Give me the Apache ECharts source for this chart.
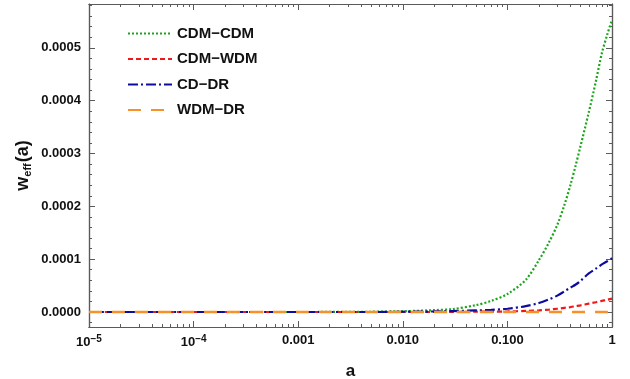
<!DOCTYPE html>
<html>
<head>
<meta charset="utf-8">
<script src="https://cdn.jsdelivr.net/npm/echarts@6/dist/echarts.min.js"></script>
<style>
  html, body { margin: 0; padding: 0; background: #fff; }
  #chart { width: 630px; height: 379px; }
</style>
</head>
<body>
<div id="chart"></div>
<script>
// scale factor a (log axis)
const aVals = [1e-5, 1e-4, 1e-3, 0.005, 0.01, 0.02, 0.03, 0.05, 0.07, 0.1, 0.15, 0.2, 0.25, 0.3, 0.35, 0.4, 0.45, 0.5, 0.6, 0.7, 0.8, 0.9, 1];
// w_eff(a)
const cdmCdm = [0, 0, 0, 0.0000005, 0.0000015, 0.0000035, 0.0000055, 0.000013, 0.000021, 0.000034, 0.000061, 0.000098, 0.000132, 0.000165, 0.000202, 0.00024, 0.000278, 0.000314, 0.000378, 0.000436, 0.00049, 0.000525, 0.000553];
const cdmWdm = [0, 0, 0, 0, 0, 0, 0, 0.0000005, 0.0000008, 0.000001, 0.000002, 0.000003, 0.0000045, 0.0000062, 0.0000078, 0.0000093, 0.000011, 0.0000125, 0.0000158, 0.0000185, 0.000021, 0.000023, 0.0000252];
const cdDr = [0, 0, 0, 0, 0.0000005, 0.000001, 0.0000018, 0.000003, 0.000004, 0.0000062, 0.000011, 0.000017, 0.000024, 0.000031, 0.000039, 0.000046, 0.000052, 0.000059, 0.000073, 0.000082, 0.00009, 0.000096, 0.0001017];
const wdmDr = [0, 0, 0, 0, 0, 0, 0, 0, 0, 0, 0, 0, 0, 0, 0, 0, 0, 0, 0, 0, 0, 0, 0];

const seriesNames = ['CDM\u2212CDM', 'CDM\u2212WDM', 'CD\u2212DR', 'WDM\u2212DR'];

// ticks
const xMajor = [1e-5, 1e-4, 1e-3, 0.01, 0.1, 1];
const xLabels = ['{b|10}{s|\u22125}', '{b|10}{s|\u22124}', '0.001', '0.010', '0.100', '1'];
const yMajor = [0, 0.0001, 0.0002, 0.0003, 0.0004, 0.0005];
const yLabels = ['0.0000', '0.0001', '0.0002', '0.0003', '0.0004', '0.0005'];

const yMin = -0.0000284, yMax = 0.000583;

let xMinor = [];
for (let d = -5; d < 0; d++) {
    for (let k = 2; k <= 9; k++) xMinor.push(k * Math.pow(10, d));
}
let yMinor = [];
for (let i = -1; i <= 29; i++) {
    if (i % 5 !== 0) yMinor.push(i * 0.00002);
}

const frame = '#5a5a5a';
const font = 'Liberation Sans, Arial, sans-serif';

function mkX(pos, ticks, len, withLabels) {
    return {
        type: 'log', logBase: 10, min: 1e-5, max: 1, position: pos,
        axisLine: { show: true, onZero: false, lineStyle: { color: frame, width: 1.2 } },
        axisTick: { show: true, inside: true, length: len, customValues: ticks, lineStyle: { color: frame } },
        axisLabel: withLabels ? {
            show: true, customValues: xMajor, margin: 7,
            color: '#111', fontFamily: font, fontWeight: 'bold', fontSize: 13,
            formatter: v => xLabels[xMajor.findIndex(t => Math.abs(Math.log10(t) - Math.log10(v)) < 1e-6)] || '',
            rich: {
                b: { fontFamily: font, fontWeight: 'bold', fontSize: 13, color: '#111' },
                s: { fontFamily: font, fontWeight: 'bold', fontSize: 10, color: '#111', verticalAlign: 'top', padding: [0, 0, 7, 0] }
            }
        } : { show: false },
        splitLine: { show: false },
        name: withLabels ? 'a' : '',
        nameLocation: 'middle', nameGap: 36,
        nameTextStyle: { fontFamily: font, fontWeight: 'bold', fontSize: 17, color: '#111' }
    };
}

function mkY(pos, ticks, len, withLabels) {
    return {
        type: 'value', min: yMin, max: yMax, position: pos,
        axisLine: { show: true, onZero: false, lineStyle: { color: frame, width: 1.2 } },
        axisTick: { show: true, inside: true, length: len, customValues: ticks, lineStyle: { color: frame } },
        axisLabel: withLabels ? {
            show: true, customValues: yMajor, margin: 8,
            color: '#111', fontFamily: font, fontWeight: 'bold', fontSize: 13,
            formatter: v => yLabels[yMajor.findIndex(t => Math.abs(t - v) < 1e-9)] || ''
        } : { show: false },
        splitLine: { show: false },
        name: withLabels ? '{w|w}{e|eff}{w|(a)}' : '',
        nameLocation: 'middle', nameGap: 56, nameRotate: 90, nameMoveOverlap: false,
        nameTextStyle: {
            rich: {
                w: { fontFamily: font, fontWeight: 'bold', fontSize: 18, color: '#111' },
                e: { fontFamily: font, fontWeight: 'bold', fontSize: 11, color: '#111', verticalAlign: 'bottom', padding: [8, 1, 0, 0] }
            }
        }
    };
}

const chart = echarts.init(document.getElementById('chart'));

function line(name, vals, color, dash, width) {
    return {
        name: name, type: 'line', xAxisIndex: 0, yAxisIndex: 0,
        data: aVals.map((a, i) => [a, vals[i]]),
        symbol: 'none', smooth: 0.3, animation: false,
        lineStyle: { color: color, width: width, type: dash, cap: 'butt' },
        itemStyle: { color: color }
    };
}

chart.setOption({
    animation: false,
    grid: { left: 89, right: 18, top: 4, bottom: 52, containLabel: false, outerBoundsMode: 'none' },
    legend: {
        orient: 'vertical', left: 122, top: 21,
        itemWidth: 44, itemHeight: 14, itemGap: 10.5,
        itemStyle: { opacity: 0 },
        textStyle: { fontFamily: font, fontWeight: 'bold', fontSize: 15, color: '#111' },
        data: seriesNames
    },
    xAxis: [
        mkX('bottom', xMajor, 6, true),
        mkX('bottom', xMinor, 3, false),
        mkX('top', xMajor, 6, false),
        mkX('top', xMinor, 3, false)
    ],
    yAxis: [
        mkY('left', yMajor, 6, true),
        mkY('left', yMinor, 3, false),
        mkY('right', yMajor, 6, false),
        mkY('right', yMinor, 3, false)
    ],
    series: [
        line(seriesNames[0], cdmCdm, '#1aa61a', [2, 2], 2.2),
        line(seriesNames[1], cdmWdm, '#f01818', [5, 3], 2.2),
        line(seriesNames[2], cdDr, '#0c0c9e', [10, 3, 2, 3], 2.2),
        line(seriesNames[3], wdmDr, '#f7922a', [13, 10], 2.4)
    ]
});
</script>
</body>
</html>
